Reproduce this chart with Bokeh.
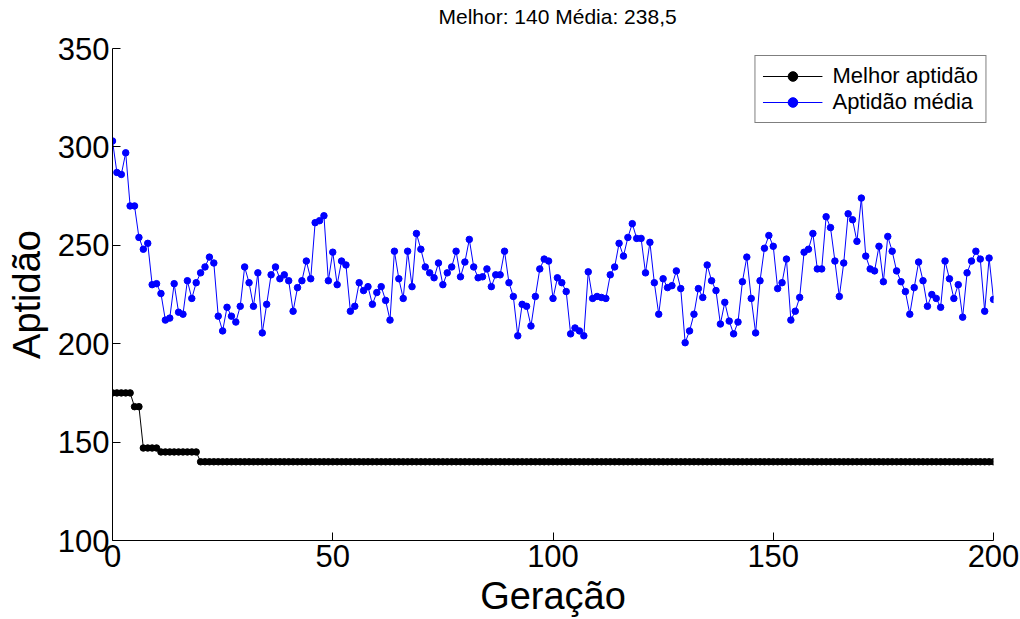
from bokeh.plotting import figure
from bokeh.models import Legend, LegendItem, FixedTicker, Range1d, Title
from bokeh.embed import file_html
from bokeh.resources import INLINE

# ---------------- data ----------------
generations = list(range(201))

best_fitness = [
    175, 175, 175, 175, 175, 168, 168, 147, 147, 147,
    147, 145, 145, 145, 145, 145, 145, 145, 145, 145,
    140, 140, 140, 140, 140, 140, 140, 140, 140, 140,
    140, 140, 140, 140, 140, 140, 140, 140, 140, 140,
    140, 140, 140, 140, 140, 140, 140, 140, 140, 140,
    140, 140, 140, 140, 140, 140, 140, 140, 140, 140,
    140, 140, 140, 140, 140, 140, 140, 140, 140, 140,
    140, 140, 140, 140, 140, 140, 140, 140, 140, 140,
    140, 140, 140, 140, 140, 140, 140, 140, 140, 140,
    140, 140, 140, 140, 140, 140, 140, 140, 140, 140,
    140, 140, 140, 140, 140, 140, 140, 140, 140, 140,
    140, 140, 140, 140, 140, 140, 140, 140, 140, 140,
    140, 140, 140, 140, 140, 140, 140, 140, 140, 140,
    140, 140, 140, 140, 140, 140, 140, 140, 140, 140,
    140, 140, 140, 140, 140, 140, 140, 140, 140, 140,
    140, 140, 140, 140, 140, 140, 140, 140, 140, 140,
    140, 140, 140, 140, 140, 140, 140, 140, 140, 140,
    140, 140, 140, 140, 140, 140, 140, 140, 140, 140,
    140, 140, 140, 140, 140, 140, 140, 140, 140, 140,
    140, 140, 140, 140, 140, 140, 140, 140, 140, 140,
    140,
]

mean_fitness = [
    303, 287, 286, 297, 270, 270, 254, 248, 251, 230,
    230.5, 225.5, 212, 213, 230.5, 216, 215, 232, 223, 231,
    236, 239, 244, 241, 214, 206.5, 218.5, 214, 211, 219,
    239, 231, 219, 236, 205.5, 220, 235, 239, 233, 235,
    232, 216.5, 228.5, 232, 242, 233, 261.5, 262.5, 265, 232,
    246.5, 230, 242, 240, 216.5, 219, 231, 227, 229, 220,
    226, 229, 222, 212, 247, 233, 223, 247, 229, 256,
    248, 239, 236, 233.5, 241, 230, 236, 239, 247, 234,
    241.5, 253, 239, 233.5, 234, 238, 229, 235, 235, 247,
    231, 224, 204, 220, 219, 209, 224, 238, 243, 242,
    223, 233.5, 231, 226.5, 205, 208, 206.5, 204, 236.5, 223,
    224, 223.5, 223, 235, 239, 251, 244.5, 254, 261, 253.5,
    253.5, 236, 251.5, 231, 215, 233, 228.5, 229.5, 237, 228,
    200.5, 206.5, 215, 228, 223.5, 240, 232, 227, 210, 221,
    211.5, 205, 211, 231.5, 244, 223, 205.5, 232, 248.5, 255,
    249.5, 228, 231, 243, 212, 216.5, 223.5, 246.5, 248, 256,
    238, 238, 264.5, 259, 242, 224, 241, 266, 263, 252,
    274, 244.5, 238, 237, 249.5, 231.5, 254.5, 247, 237, 231.5,
    226.5, 215, 228.5, 241.5, 232, 219, 225, 223, 218.5, 242,
    233, 223, 230, 213.5, 236, 242, 247, 243, 216.5, 243.5,
    222.5,
]

x_ticks = [0, 50, 100, 150, 200]
y_ticks = [100, 150, 200, 250, 300, 350]
series_labels = ["Melhor aptidão", "Aptidão média"]
title_text = "Melhor: 140 Média: 238,5"
x_label = "Geração"
y_label = "Aptidão"

FONT = "Liberation Sans"

p = figure(width=1020, height=619, output_backend="svg", toolbar_location=None,
           x_range=Range1d(0, 200), y_range=Range1d(100, 350),
           min_border_left=112, min_border_right=27,
           min_border_top=48, min_border_bottom=79)
p.outline_line_color = None
p.grid.visible = False
p.background_fill_color = "white"
p.border_fill_color = "white"

# spacer title next to the frame, then the real title further out
p.add_layout(Title(text=" ", text_font_size="1px", standoff=16), "above")
p.add_layout(Title(text=title_text, align="left", offset=326, vertical_align="top",
                   standoff=0, text_font=FONT, text_font_size="21px",
                   text_font_style="normal", text_color="black"), "above")

for ax, ticks in ((p.xaxis[0], x_ticks), (p.yaxis[0], y_ticks)):
    ax.ticker = FixedTicker(ticks=ticks)
    ax.major_tick_in = 8
    ax.major_tick_out = 0
    ax.minor_tick_in = 0
    ax.minor_tick_out = 0
    ax.axis_line_color = "black"
    ax.major_tick_line_color = "black"
    ax.axis_line_width = 1
    ax.major_label_text_font = FONT
    ax.major_label_text_font_size = "31px"
    ax.major_label_text_color = "black"
    ax.axis_label_text_font = FONT
    ax.axis_label_text_font_size = "38px"
    ax.axis_label_text_font_style = "normal"
    ax.axis_label_text_color = "black"

p.xaxis.major_label_standoff = 4
p.yaxis.major_label_standoff = 3
p.xaxis.axis_label = x_label
p.yaxis.axis_label = y_label
p.xaxis.axis_label_standoff = 5
p.yaxis.axis_label_standoff = 7

l1 = p.line(generations, best_fitness, line_color="black", line_width=1)
s1 = p.scatter(generations, best_fitness, size=6.5, fill_color="black", line_color="black")
l2 = p.line(generations, mean_fitness, line_color="#0000ff", line_width=1)
s2 = p.scatter(generations, mean_fitness, size=6.5, fill_color="#0000ff", line_color="#0000ff")

legend = Legend(items=[LegendItem(label=series_labels[0], renderers=[l1, s1]),
                       LegendItem(label=series_labels[1], renderers=[l2, s2])],
                location="top_right", margin=7, padding=7, spacing=0,
                glyph_width=60, glyph_height=24, label_height=24,
                label_standoff=10, label_text_color="black",
                label_text_font=FONT, label_text_font_size="22px",
                border_line_color="black", border_line_width=1,
                background_fill_color="white", background_fill_alpha=1.0)
p.add_layout(legend)

open("out.html", "w").write(file_html(p, INLINE))
